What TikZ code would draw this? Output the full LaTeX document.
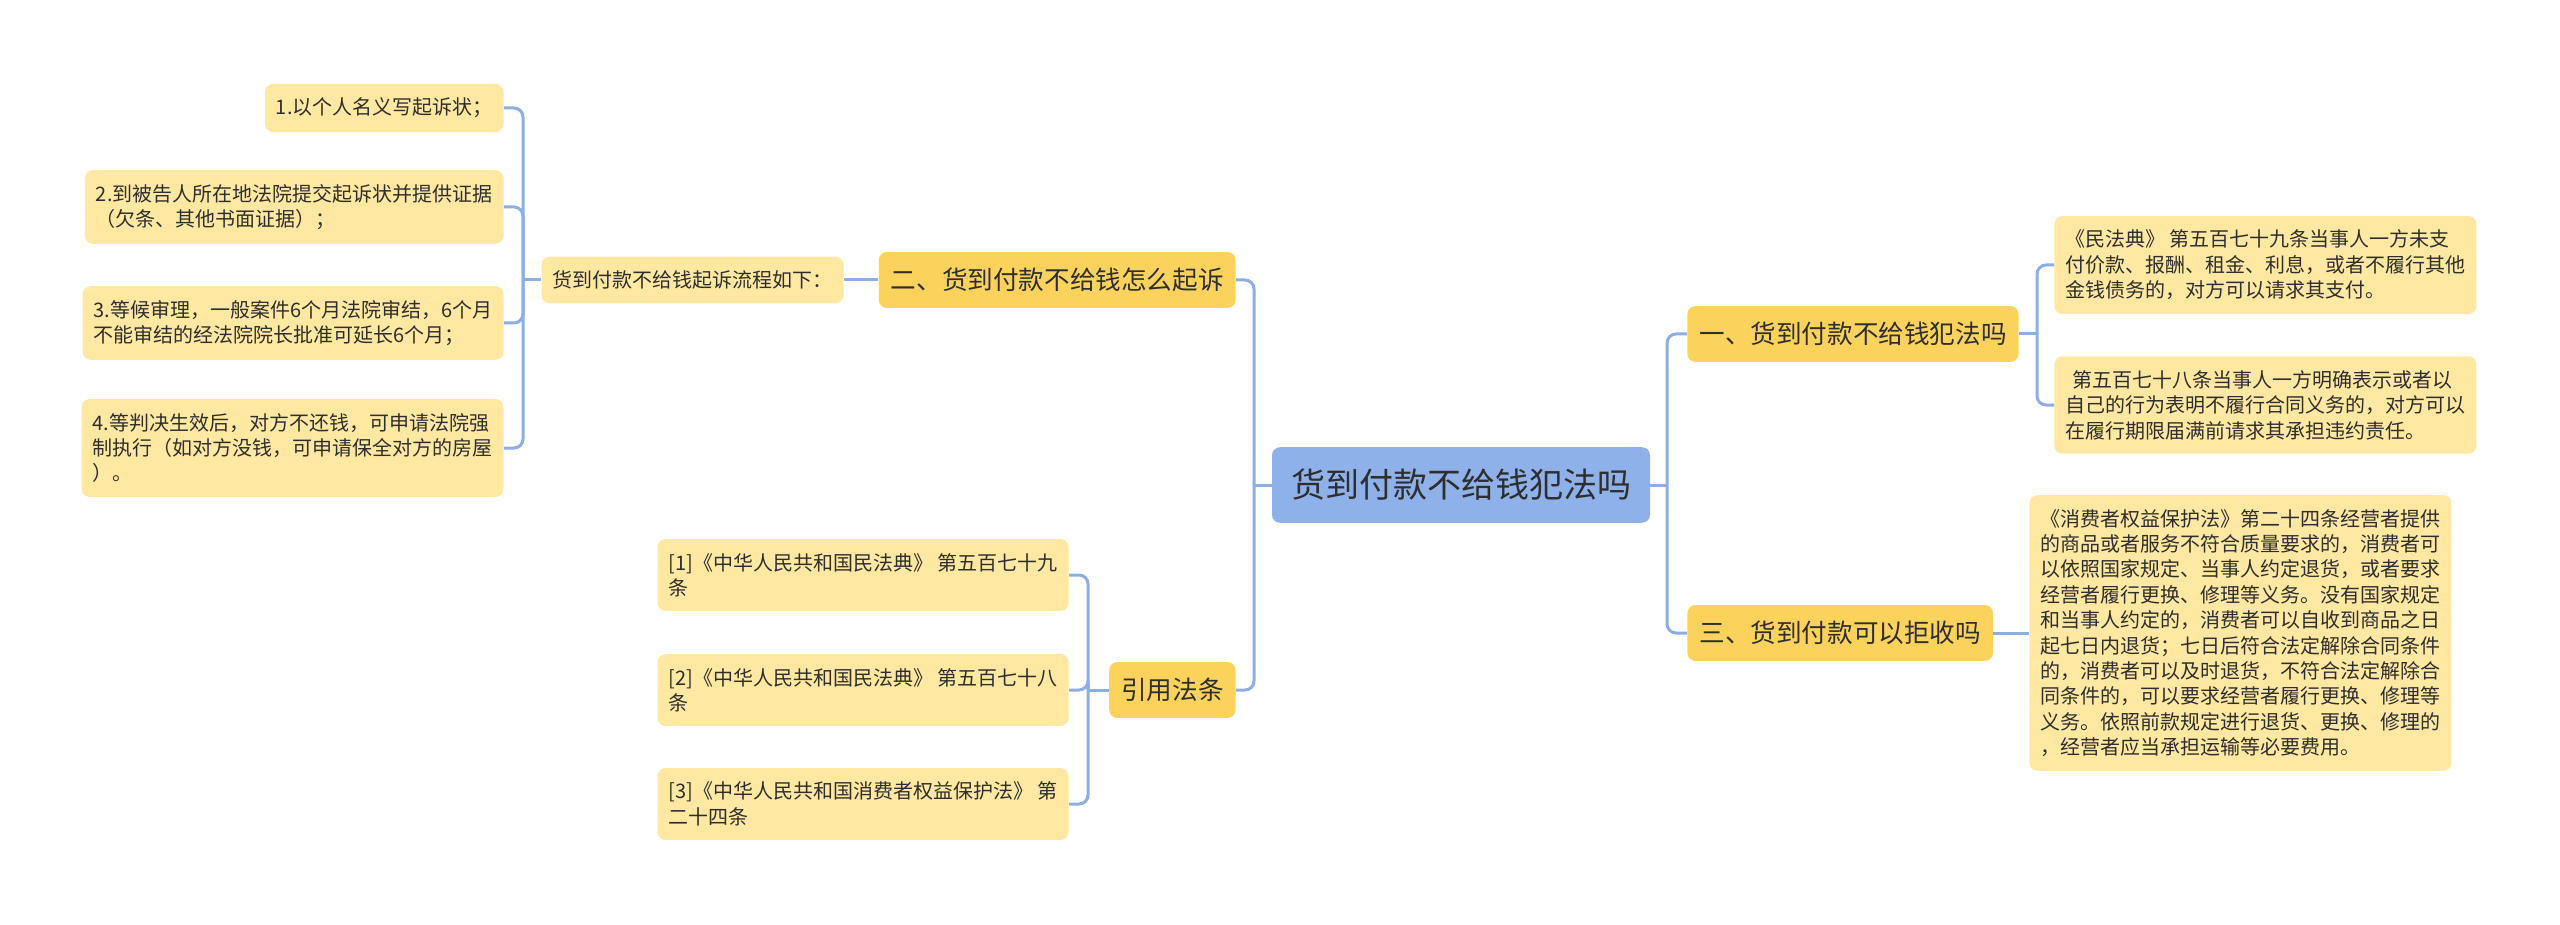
\documentclass[tikz,border=0pt]{standalone}
\usepackage{fontspec}
\setmainfont{Noto Sans CJK SC}
\definecolor{linkblue}{HTML}{8CAEE6}
\definecolor{rootblue}{HTML}{8FB1EA}
\definecolor{branchyellow}{HTML}{FBD35C}
\definecolor{leafyellow}{HTML}{FEE8A2}
\definecolor{inkgray}{HTML}{2E2E2E}
\tikzset{
	rootbox/.style={fill=rootblue, rounded corners=4pt, inner xsep=9.5pt, inner ysep=11pt, text=inkgray, font=\fontsize{17}{20}\selectfont},
	branchbox/.style={fill=branchyellow, rounded corners=4pt, inner xsep=6pt, inner ysep=8pt, text=inkgray, font=\fontsize{12.8}{15}\selectfont},
	leafbox/.style={fill=leafyellow, rounded corners=4pt, inner xsep=5.5pt, inner ysep=7pt, align=left, text=inkgray, font=\fontsize{10}{12.7}\selectfont},
	link/.style={draw=linkblue, line width=1.5pt, rounded corners=4.5pt}
}
\begin{document}
\begin{tikzpicture}[x=0.5pt, y=-0.5pt]
	\useasboundingbox (0,0) rectangle (2560,925);
	
	\node[rootbox] (root) at (1461,485) {货到付款不给钱犯法吗};
	
	\node[branchbox, anchor=west] (b1) at (1687,334) {一、货到付款不给钱犯法吗};
	\node[branchbox, anchor=west] (b3) at (1687,633) {三、货到付款可以拒收吗};
	\node[branchbox, anchor=east] (b2) at (1236,280) {二、货到付款不给钱怎么起诉};
	\node[branchbox, anchor=east] (cite) at (1236,690) {引用法条};
	
	\node[leafbox, anchor=west] (l1a) at (2054,265) {《民法典》 第五百七十九条当事人一方未支\\付价款、报酬、租金、利息，或者不履行其他\\金钱债务的，对方可以请求其支付。};
	\node[leafbox, anchor=west] (l1b) at (2054,405) {\hspace*{0.35em}第五百七十八条当事人一方明确表示或者以\\自己的行为表明不履行合同义务的，对方可以\\在履行期限届满前请求其承担违约责任。};
	\node[leafbox, anchor=west] (l3) at (2029,633) {《消费者权益保护法》第二十四条经营者提供\\的商品或者服务不符合质量要求的，消费者可\\以依照国家规定、当事人约定退货，或者要求\\经营者履行更换、修理等义务。没有国家规定\\和当事人约定的，消费者可以自收到商品之日\\起七日内退货；七日后符合法定解除合同条件\\的，消费者可以及时退货，不符合法定解除合\\同条件的，可以要求经营者履行更换、修理等\\义务。依照前款规定进行退货、更换、修理的\\，经营者应当承担运输等必要费用。};
	
	\node[leafbox, anchor=east] (flow) at (844,280) {货到付款不给钱起诉流程如下：};
	\node[leafbox, anchor=east] (i1) at (504,108) {1.以个人名义写起诉状；};
	\node[leafbox, anchor=east] (i2) at (504,207) {2.到被告人所在地法院提交起诉状并提供证据\\（欠条、其他书面证据）；};
	\node[leafbox, anchor=east] (i3) at (504,323) {3.等候审理，一般案件6个月法院审结，6个月\\不能审结的经法院院长批准可延长6个月；};
	\node[leafbox, anchor=east] (i4) at (504,448) {4.等判决生效后，对方不还钱，可申请法院强\\制执行（如对方没钱，可申请保全对方的房屋\\）。};
	
	\node[leafbox, anchor=east] (r1) at (1069,575) {[1]《中华人民共和国民法典》 第五百七十九\\条};
	\node[leafbox, anchor=east] (r2) at (1069,690) {[2]《中华人民共和国民法典》 第五百七十八\\条};
	\node[leafbox, anchor=east] (r3) at (1069,804) {[3]《中华人民共和国消费者权益保护法》 第\\二十四条};
	
	\coordinate (jr) at (1667,485);
	\coordinate (jl) at (1254,485);
	\coordinate (j1) at (2037,334);
	\coordinate (jf) at (523,280);
	\coordinate (jc) at (1088,690);
	
	\draw[link] (root.east) -- (jr);
	\foreach \n in {b1,b3}
	\draw[link] (jr) |- (\n.west);
	
	\draw[link] (root.west) -- (jl);
	\foreach \n in {b2,cite}
	\draw[link] (jl) |- (\n.east);
	
	\draw[link] (b1.east) -- (j1);
	\foreach \n in {l1a,l1b}
	\draw[link] (j1) |- (\n.west);
	\draw[link] (b3.east) -- (l3.west);
	
	\draw[link] (b2.west) -- (flow.east);
	\draw[link] (flow.west) -- (jf);
	\foreach \n in {i1,i2,i3,i4}
	\draw[link] (jf) |- (\n.east);
	
	\draw[link] (cite.west) -- (jc);
	\foreach \n in {r1,r2,r3}
	\draw[link] (jc) |- (\n.east);
\end{tikzpicture}
\end{document}
